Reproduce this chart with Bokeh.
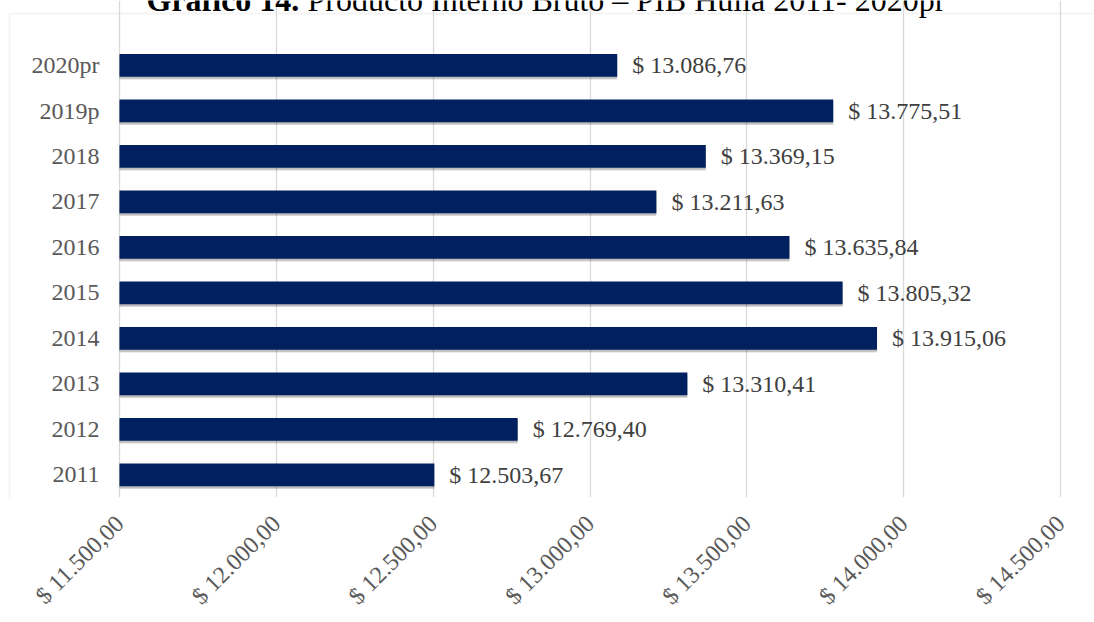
from bokeh.plotting import figure
from bokeh.models import (Range1d, FixedTicker, ColumnDataSource, Label, BoxAnnotation)
from bokeh.transform import dodge
from bokeh.embed import file_html
from bokeh.resources import INLINE
from bokeh.core.properties import value
import math

# ---- data ----
years = ["2011", "2012", "2013", "2014", "2015", "2016", "2017", "2018", "2019p", "2020pr"]
pib = [12503.67, 12769.40, 13310.41, 13915.06, 13805.32, 13635.84, 13211.63, 13369.15, 13775.51, 13086.76]
tick_values = [11500, 12000, 12500, 13000, 13500, 14000, 14500]
tick_labels = ["$ 11.500,00", "$ 12.000,00", "$ 12.500,00", "$ 13.000,00",
               "$ 13.500,00", "$ 14.000,00", "$ 14.500,00"]
title_bold = "Gráfico 14."
title_rest = "Producto Interno Bruto – PIB Huila 2011- 2020pr"


def fmt(v):
    s = f"{v:,.2f}"  # 13,086.76
    s = s.replace(",", "X").replace(".", ",").replace("X", ".")
    return "$ " + s


FONT = "Liberation Serif"
TXT = "#595959"
BAR = "#002060"

W, H = 1094, 622
PLOT_L, PLOT_R = 119, 1060      # pixel span of the value axis
PLOT_B = 497                    # bottom of the bar area
ROW = 45.5                      # pixels per category row

xmin, xmax = tick_values[0], tick_values[-1]
scale = (PLOT_R - PLOT_L) / (xmax - xmin)
x_start = xmin - PLOT_L / scale
x_end = xmax + (W - PLOT_R) / scale
y_start = -0.5
y_end = y_start + PLOT_B / ROW

ypos = list(range(len(years)))
src = ColumnDataSource(dict(y=ypos, cat=years, val=pib, lab=[fmt(v) for v in pib],
                            base=[xmin] * len(years)))

p = figure(width=W, height=H, output_backend="svg", toolbar_location=None,
           x_range=Range1d(x_start, x_end), y_range=Range1d(y_start, y_end),
           min_border_left=0, min_border_right=0, min_border_top=0,
           min_border_bottom=H - PLOT_B)
p.outline_line_color = None
p.background_fill_color = "white"
p.border_fill_color = "white"

# document box around the chart
p.add_layout(BoxAnnotation(left=9, right=5000, top=13, bottom=5000,
                           left_units="canvas", right_units="canvas",
                           top_units="canvas", bottom_units="canvas",
                           fill_alpha=0, line_color="#d9d9d9", line_width=2,
                           level="underlay"))

# shadow
p.hbar(y=dodge("y", -0.065), left="base", right="val", height=0.5,
       source=src, fill_color="black", fill_alpha=0.16, line_color=None)
p.hbar(y=dodge("y", -0.04), left="base", right="val", height=0.5,
       source=src, fill_color="black", fill_alpha=0.12, line_color=None)
# bars
p.hbar(y="y", left="base", right="val", height=0.5, source=src,
       fill_color=BAR, line_color=None)
# value labels
p.text(x="val", y="y", text="lab", source=src, x_offset=15,
       text_baseline="middle", text_align="left",
       text_font=value(FONT), text_font_size="24px", text_color="#404040")
# category labels (at the start of the value axis)
p.text(x="base", y="y", text="cat", source=src, x_offset=-20,
       text_baseline="middle", text_align="right",
       text_font=value(FONT), text_font_size="24px", text_color=TXT)

# axes
p.yaxis.visible = False
p.xaxis.ticker = FixedTicker(ticks=tick_values)
p.xaxis.major_label_overrides = {t: l for t, l in zip(tick_values, tick_labels)}
p.xaxis.major_label_orientation = math.pi / 4
p.xaxis.major_label_text_font = FONT
p.xaxis.major_label_text_font_size = "24px"
p.xaxis.major_label_text_color = TXT
p.xaxis.major_label_standoff = 22
p.xaxis.axis_line_color = None
p.xaxis.major_tick_line_color = None
p.xaxis.minor_tick_line_color = None
p.xaxis.major_tick_out = 0
p.xaxis.major_tick_in = 0

p.xgrid.grid_line_color = "#d9d9d9"
p.xgrid.grid_line_width = 1.3
p.ygrid.grid_line_color = None

# title (cut at the top as in the reference)
p.add_layout(Label(x=146, y=-1, x_units="canvas", y_units="canvas", text=title_bold,
                   text_font=FONT, text_font_size="32px", text_font_style="bold",
                   text_color="black", text_baseline="alphabetic"))
p.add_layout(Label(x=307, y=-1, x_units="canvas", y_units="canvas", text=title_rest,
                   text_font=FONT, text_font_size="32px",
                   text_color="black", text_baseline="alphabetic"))

open("out.html", "w").write(file_html(p, INLINE))
